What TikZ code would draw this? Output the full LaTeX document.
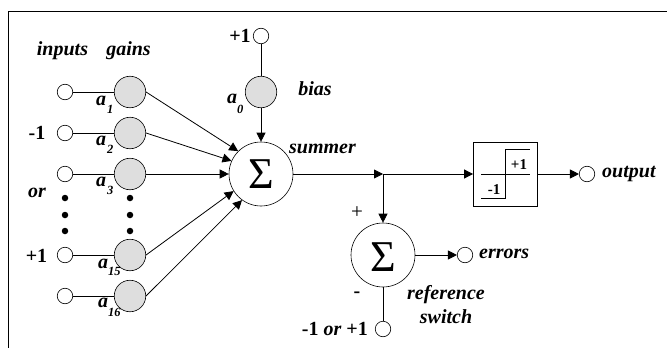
\documentclass[tikz,border=0pt]{standalone}
\usepackage{fontspec}
\setmainfont{Liberation Serif}
\usetikzlibrary{arrows.meta}
\tikzset{
 port/.style={circle,draw,line width=.6pt,fill=white,minimum size=15.5pt,inner sep=0pt},
 gain/.style={circle,draw,line width=.6pt,fill=black!13,minimum size=31.5pt,inner sep=0pt},
 sumnode/.style={circle,draw,line width=.6pt,fill=white,minimum size=64pt,inner sep=0pt},
 wire/.style={line width=.8pt},
 arr/.style={line width=.8pt,-{Triangle[length=9pt,width=9pt]}},
 dot/.style={circle,fill=black,minimum size=6.5pt,inner sep=0pt},
 lab/.style={font=\bfseries\itshape\fontsize{20}{22}\selectfont,inner sep=0pt,anchor=base},
 labl/.style={lab,anchor=base west},
 num/.style={font=\bfseries\fontsize{20}{22}\selectfont,inner sep=0pt,anchor=base},
 aname/.style={font=\bfseries\itshape\fontsize{20}{22}\selectfont,inner sep=0pt,anchor=base west},
 sub/.style={font=\bfseries\itshape\fontsize{12.5}{13}\selectfont,inner sep=0pt,anchor=base west},
 sig/.style={font=\fontsize{44}{44}\selectfont,inner sep=0pt,anchor=base},
 boxnum/.style={font=\bfseries\fontsize{15}{16}\selectfont,inner sep=0pt,anchor=base}
}
\begin{document}
\begin{tikzpicture}[x=1pt,y=-1pt]
\useasboundingbox (0,0) rectangle (667,348);
\draw[line width=.9pt] (8,348) -- (8,11.5) -- (667,11.5);
\foreach \n/\y in {a/92,b/133,c/174,d/255,e/296}{
  \node[port] (p\n) at (65,\y) {};
  \node[gain] (g\n) at (130,\y) {};
  \draw[wire] (p\n) -- (g\n);
}
\node[sumnode] (s1) at (261,174) {};
\node[port] (pz) at (261,36) {};
\node[gain] (gz) at (261,92) {};
\draw[wire] (pz) -- (gz);
\draw[arr] (gz) -- (s1);
\draw[arr] (ga.east) -- (s1.135);
\draw[arr] (gb.east) -- (s1.156);
\draw[arr] (gc.east) -- (s1.west);
\draw[arr] (gd.east) -- (s1.212);
\draw[arr] (ge.east) -- (s1.234);
\node[sig] (sigA) at (261,188) {Σ};
\foreach \x/\k in {65/p,130/g}{
  \foreach \y/\j in {198/x,215/y,231/z}{
    \node[dot] (\k\j) at (\x,\y) {};
  }
}
\coordinate (j) at (383,174);
\node[draw,line width=.8pt,minimum size=64pt,inner sep=0pt] (box) at (505.5,174) {};
\node[sumnode] (s2) at (383,255) {};
\node[port] (pout) at (587,174) {};
\node[port] (perr) at (465,255) {};
\node[port] (pref) at (383,329) {};
\draw[arr] (s1) -- (j);
\draw[arr] (j) -- (box);
\draw[arr] (j) -- (s2);
\draw[arr] (box) -- (pout);
\draw[arr] (s2) -- (perr);
\draw[wire] (s2) -- (pref);
\node[sig] (sigB) at (383,271) {Σ};
\draw[line width=.8pt] (481,198) -- (505.5,198) -- (505.5,149.5) -- (530,149.5);
\draw[line width=.8pt] (481,174) -- (530,174);
\node[boxnum] (bp) at (519,169) {+1};
\node[boxnum] (bm) at (494,194) {-1};
\node[lab] (t1) at (62.5,55) {inputs};
\node[lab] (t2) at (128.5,55) {gains};
\node[lab] (t3) at (315,95) {bias};
\node[labl] (t4) at (289,153) {summer};
\node[labl] (t5) at (602,177) {output};
\node[labl] (t6) at (479,258) {errors};
\node[lab] (t7) at (446,299) {reference};
\node[lab] (t8) at (446,323) {switch};
\node[lab] (t9) at (37,197) {or};
\node[num] (n1) at (37,139) {-1};
\node[num] (n2) at (36.5,262) {+1};
\node[num] (n3) at (240,42) {+1};
\node[font=\fontsize{21}{21}\selectfont,inner sep=0,anchor=base] (n4) at (357,218) {+};
\node[num] (n5) at (357,297) {-};
\node[inner sep=0,anchor=base east] (n6) at (368,335) {\fontsize{20}{22}\selectfont\bfseries -1 \itshape or \upshape +1};
\node[aname] (a1) at (96,105) {a};   \node[sub] (b1) at (107,113) {1};
\node[aname] (a2) at (96,145) {a};   \node[sub] (b2) at (107,153) {2};
\node[aname] (a3) at (96,186) {a};   \node[sub] (b3) at (107,194) {3};
\node[aname] (a0) at (227,103) {a};  \node[sub] (b0) at (237,113) {0};
\node[aname] (a4) at (98,268) {a};   \node[sub] (b4) at (108,275) {15};
\node[aname] (a5) at (98,307) {a};   \node[sub] (b5) at (108,316) {16};
\end{tikzpicture}
\end{document}
